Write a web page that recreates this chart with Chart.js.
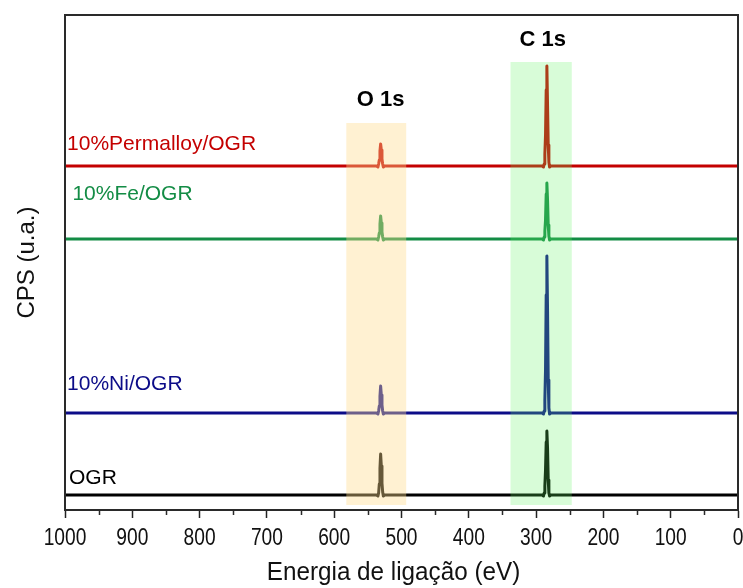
<!DOCTYPE html>
<html>
<head>
<meta charset="utf-8">
<script src="https://cdn.jsdelivr.net/npm/chart.js@4.4.1/dist/chart.umd.min.js"></script>
<style>
  html, body { margin: 0; padding: 0; background: #fff; }
  #wrap { width: 743px; height: 588px; }
</style>
</head>
<body>
<div id="wrap"><canvas id="c" width="743" height="588"></canvas></div>
<script>
// Binding energy (eV) sample points shared by all spectra
const energies = [1000, 540,
                  537, 535, 534, 533, 532, 531, 530, 529, 528, 527, 525,
                  520, 295,
                  291, 289, 288, 287, 286, 285, 284, 283, 282, 281, 280, 278,
                  275, 0];

// Intensities (arbitrary units, stacked with offsets as in the figure)
const ogr     = [15, 15,
                 15, 14, 17, 26, 42, 56, 44, 27, 18, 14, 15,
                 15, 15,
                 15, 14, 17, 24, 40, 68, 79, 62, 30, 17, 14, 15,
                 15, 15];
const niOgr   = [97, 97,
                 97, 96, 99, 104, 114, 124, 115, 105, 99, 96, 97,
                 97, 97,
                 97, 96, 99, 110, 140, 215, 254, 200, 130, 102, 96, 97,
                 97, 97];
const feOgr   = [271, 271,
                 271, 270, 273, 277, 286, 294, 287, 278, 273, 270, 271,
                 271, 271,
                 271, 270, 273, 279, 290, 316, 327, 310, 285, 274, 270, 271,
                 271, 271];
const permOgr = [344, 344,
                 344, 343, 346, 350, 359, 366, 360, 351, 346, 343, 344,
                 344, 344,
                 344, 343, 346, 356, 375, 420, 444, 405, 365, 348, 343, 344,
                 344, 344];

const seriesNames = ['OGR', '10%Ni/OGR', '10%Fe/OGR', '10%Permalloy/OGR'];

// Highlighted regions: [from eV, to eV, top intensity]
const bandO = [582, 493, 387];
const bandC = [338, 247, 448];

const xTicks = [1000, 900, 800, 700, 600, 500, 400, 300, 200, 100, 0];
const xTitle = 'Energia de ligação (eV)';
const yTitle = 'CPS (u.a.)';

const colors = {
  'OGR': '#000000',
  '10%Ni/OGR': '#0c0c88',
  '10%Fe/OGR': '#138c45',
  '10%Permalloy/OGR': '#c40000'
};

function pts(ys) { return energies.map((e, i) => ({ x: e, y: ys[i] })); }

const seriesData = [ogr, niOgr, feOgr, permOgr];

const datasets = seriesNames.map((n, i) => ({
  label: n,
  data: pts(seriesData[i]),
  borderColor: colors[n],
  borderWidth: 3,
  pointRadius: 0,
  tension: 0,
  borderJoinStyle: 'round',
  fill: false
}));

const labelPos = [
  { text: 'OGR', x: 994, y: 32 },
  { text: '10%Ni/OGR', x: 997, y: 126 },
  { text: '10%Fe/OGR', x: 989, y: 316 },
  { text: '10%Permalloy/OGR', x: 997, y: 366 }
];

const overlayPlugin = {
  id: 'overlay',
  afterDatasetsDraw(chart) {
    const { ctx, scales: { x, y } } = chart;
    ctx.save();
    const drawBand = (b, col) => {
      const x1 = x.getPixelForValue(b[0]);
      const x2 = x.getPixelForValue(b[1]);
      const yt = y.getPixelForValue(b[2]);
      const yb = y.getPixelForValue(5);
      ctx.fillStyle = col;
      ctx.fillRect(Math.min(x1, x2), yt, Math.abs(x2 - x1), yb - yt);
    };
    drawBand(bandO, 'rgba(255,220,143,0.4)');
    drawBand(bandC, 'rgba(99,243,99,0.25)');
    ctx.restore();
  },
  afterDraw(chart) {
    const { ctx, chartArea: a, scales: { x, y } } = chart;
    ctx.save();
    // frame
    ctx.strokeStyle = '#2a2a2a';
    ctx.lineWidth = 2;
    ctx.strokeRect(a.left, a.top, a.right - a.left, a.bottom - a.top);
    // minor ticks
    ctx.lineWidth = 1.5;
    ctx.beginPath();
    for (let v = 50; v < 1000; v += 100) {
      const px = Math.round(x.getPixelForValue(v)) + 0.5;
      ctx.moveTo(px, a.bottom);
      ctx.lineTo(px, a.bottom + 5);
    }
    ctx.stroke();
    // x tick labels and title (condensed like Arial Narrow)
    ctx.fillStyle = '#111';
    ctx.textAlign = 'center';
    ctx.textBaseline = 'alphabetic';
    ctx.font = '24px "Liberation Sans", Arial, sans-serif';
    xTicks.forEach(v => {
      const px = x.getPixelForValue(v);
      ctx.save();
      ctx.translate(px, a.bottom + 35);
      ctx.scale(0.8, 1);
      ctx.fillText(String(v), 0, 0);
      ctx.restore();
    });
    ctx.font = '25px "Liberation Sans", Arial, sans-serif';
    ctx.save();
    ctx.translate((a.left + a.right) / 2 - 8, a.bottom + 70);
    ctx.scale(0.97, 1);
    ctx.fillText(xTitle, 0, 0);
    ctx.restore();
    // region labels
    ctx.fillStyle = '#000';
    ctx.font = 'bold 22px "Liberation Sans", Arial, sans-serif';
    ctx.textAlign = 'center';
    ctx.textBaseline = 'middle';
    ctx.fillText('O 1s', x.getPixelForValue(531), y.getPixelForValue(410));
    ctx.fillText('C 1s', x.getPixelForValue(290), y.getPixelForValue(470));
    // series labels
    ctx.font = '21px "Liberation Sans", Arial, sans-serif';
    ctx.textAlign = 'left';
    labelPos.forEach(l => {
      ctx.fillStyle = colors[l.text];
      ctx.fillText(l.text, x.getPixelForValue(l.x), y.getPixelForValue(l.y));
    });
    ctx.restore();
  }
};

new Chart(document.getElementById('c'), {
  type: 'line',
  data: { datasets },
  options: {
    responsive: false,
    animation: false,
    layout: { padding: { top: 15, right: 5, left: 0, bottom: 0 } },
    plugins: { legend: { display: false }, tooltip: { enabled: false } },
    scales: {
      x: {
        type: 'linear',
        min: 0, max: 1000,
        reverse: true,
        afterBuildTicks: (s) => { s.ticks = xTicks.map(v => ({ value: v })); },
        afterFit: (s) => { s.height = 78; },
        ticks: { display: false },
        grid: { display: true, drawOnChartArea: false, drawTicks: true, tickLength: 8, tickColor: '#222', tickWidth: 1.5 },
        border: { display: true, color: '#2a2a2a', width: 2 },
        title: { display: false, text: xTitle }
      },
      y: {
        type: 'linear',
        min: 0, max: 495,
        afterFit: (s) => { s.width = 65; },
        ticks: { display: false },
        grid: { display: false },
        border: { display: true, color: '#2a2a2a', width: 2 },
        title: {
          display: true,
          text: yTitle,
          color: '#111',
          font: { family: '"Liberation Sans", Arial', size: 24 },
          padding: { top: 13, bottom: 0 }
        }
      }
    }
  },
  plugins: [overlayPlugin]
});
</script>
</body>
</html>
